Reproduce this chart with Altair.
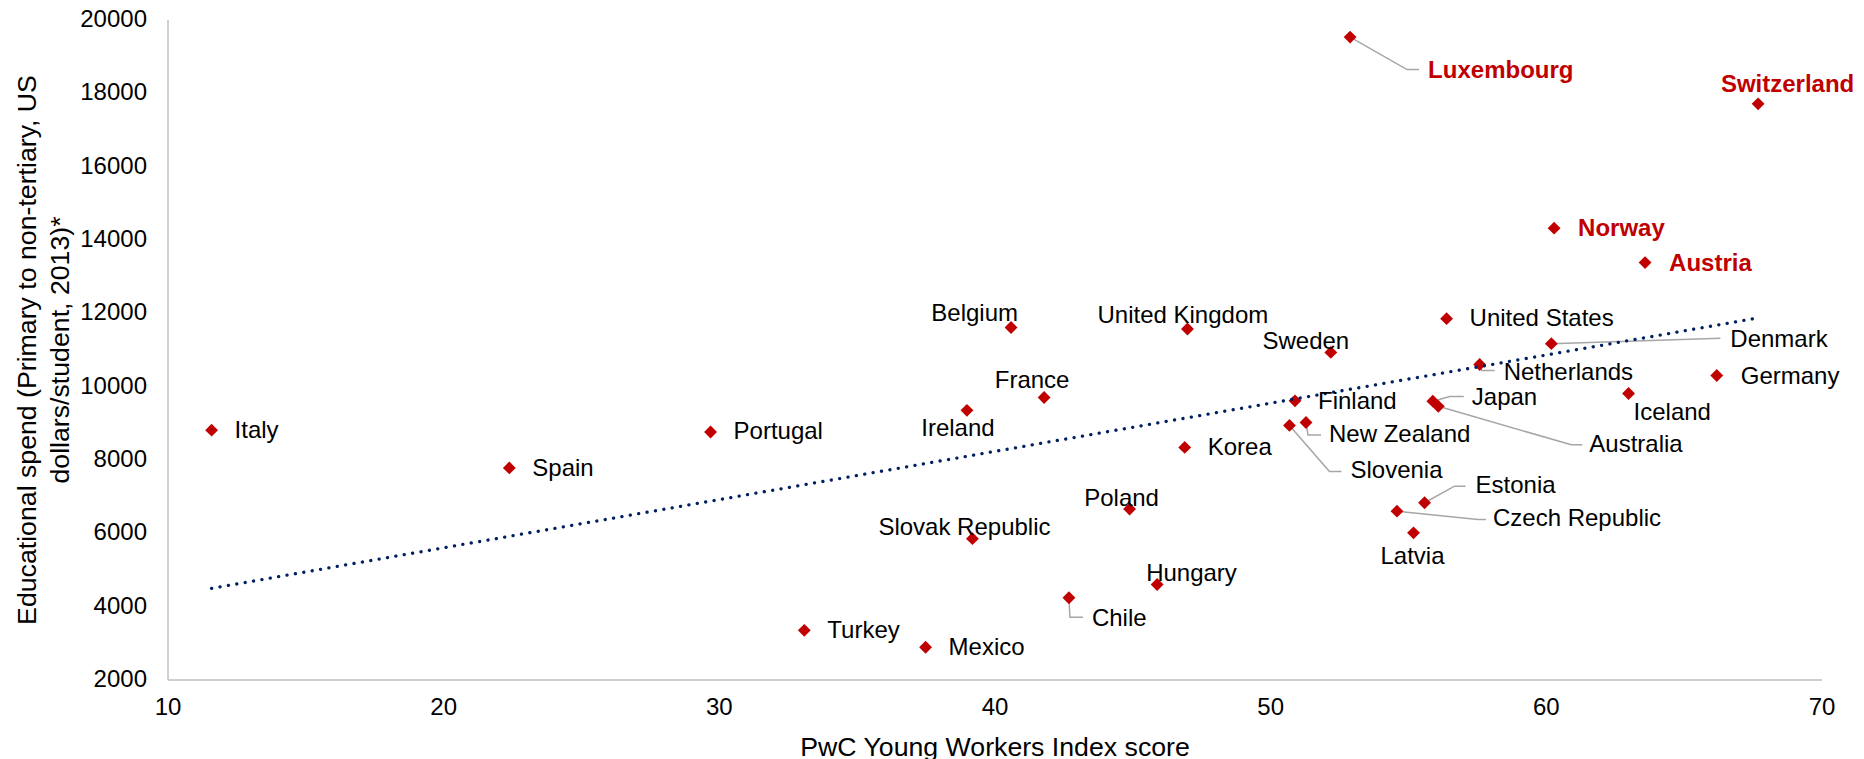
import altair as alt
import pandas as pd

# ---- data ----
countries = ["Italy", "Spain", "Portugal", "Turkey", "Mexico", "Ireland", "Slovak Republic",
             "Belgium", "France", "Chile", "Poland", "Hungary", "Korea", "United Kingdom",
             "Slovenia", "Finland", "New Zealand", "Sweden", "Luxembourg", "Czech Republic",
             "Latvia", "Estonia", "Japan", "Australia", "United States", "Netherlands",
             "Denmark", "Norway", "Iceland", "Austria", "Germany", "Switzerland"]
young_workers_score = [11.6, 22.4, 29.7, 33.1, 37.5, 39.0, 39.2,
                       40.6, 41.8, 42.7, 44.9, 45.9, 46.9, 47.0,
                       50.7, 50.9, 51.3, 52.2, 52.9, 54.6,
                       55.2, 55.6, 55.9, 56.1, 56.4, 57.6,
                       60.2, 60.3, 63.0, 63.6, 66.2, 67.7]
edu_spend = [8800, 7770, 8750, 3340, 2880, 9340, 5840,
             11600, 9690, 4230, 6650, 4590, 8330, 11560,
             8930, 9600, 9010, 10920, 19520, 6590,
             6000, 6820, 9590, 9450, 11840, 10590,
             11160, 14310, 9800, 13370, 10290, 17700]
highlighted = ["Luxembourg", "Switzerland", "Norway", "Austria"]

x_ticks = [10, 20, 30, 40, 50, 60, 70]
y_ticks = [2000, 4000, 6000, 8000, 10000, 12000, 14000, 16000, 18000, 20000]

# ---- label layout (pixel offsets from the marker) ----
label_layout = {
    "Italy": ("left", 23, 1, None),
    "Spain": ("left", 23, 1, None),
    "Portugal": ("left", 23, 0, None),
    "Turkey": ("left", 23, 1, None),
    "Mexico": ("left", 23, 1, None),
    "Ireland": ("center", -9, 19, None),
    "Slovak Republic": ("center", -8, -11, None),
    "Belgium": ("right", 7, -14, None),
    "France": ("center", -12, -17, None),
    "Chile": ("left", 23, 21, [(0, 0), (1, 19.5), (14, 19.5)]),
    "Poland": ("center", -8, -10, None),
    "Hungary": ("left", -11, -11, None),
    "Korea": ("left", 23, 1, None),
    "United Kingdom": ("left", -90, -13, None),
    "Slovenia": ("left", 61, 46, [(0, 0), (40, 46), (52, 46)]),
    "Finland": ("left", 23, 1, None),
    "New Zealand": ("left", 23, 13, [(0, 0), (2, 12.5), (15, 12.5)]),
    "Sweden": ("center", -25, -10, None),
    "Luxembourg": ("left", 78, 34, [(0, 0), (57, 32.5), (69, 32.5)]),
    "Czech Republic": ("left", 96, 8, [(0, 0), (81, 8.3), (89, 8.3)]),
    "Latvia": ("center", -1, 24, None),
    "Estonia": ("left", 51, -17, [(0, 0), (30, -16.6), (41, -16.6)]),
    "Japan": ("left", 39, -3, [(0, 0), (17, -4.7), (31, -4.7)]),
    "Australia": ("left", 151, 39, [(0, 0), (133, 38.5), (144, 38.5)]),
    "United States": ("left", 23, 0, None),
    "Netherlands": ("left", 24, 8, [(0, 0), (2, 6), (15, 6)]),
    "Denmark": ("left", 179, -4, [(0, 0), (169, -5.5)]),
    "Norway": ("left", 24, 1, None),
    "Iceland": ("left", 5, 19, None),
    "Austria": ("left", 24, 1, None),
    "Germany": ("left", 24, 1, None),
    "Switzerland": ("center", 29.5, -19, None),
}

W, H = 1654, 660
X_DOM, Y_DOM = [10, 70], [2000, 20000]
PX_X = W / (X_DOM[1] - X_DOM[0])
PX_Y = H / (Y_DOM[1] - Y_DOM[0])

FONT = "Liberation Sans, Arial, sans-serif"
RED = "#C00000"

df = pd.DataFrame({"country": countries, "score": young_workers_score, "spend": edu_spend})

lab_rows, lead_rows = [], []
for c, sx, sy in zip(countries, young_workers_score, edu_spend):
    align, dx, dy, leader = label_layout[c]
    lab_rows.append({"country": c, "lx": sx + dx / PX_X, "ly": sy - dy / PX_Y,
                     "align": align, "bold": c in highlighted})
    if leader:
        for i, (ox, oy) in enumerate(leader):
            lead_rows.append({"country": c, "i": i, "lx": sx + ox / PX_X, "ly": sy - oy / PX_Y})
labels = pd.DataFrame(lab_rows)
leaders = pd.DataFrame(lead_rows)

xscale = alt.Scale(domain=X_DOM, nice=False, zero=False)
yscale = alt.Scale(domain=Y_DOM, nice=False, zero=False)

xaxis = alt.Axis(values=x_ticks, title="PwC Young Workers Index score", grid=False,
                 ticks=False, tickSize=0, labelPadding=16, titlePadding=15,
                 domainColor="#BFBFBF", domainWidth=1.5, labelFontSize=24, titleFontSize=26.7,
                 labelColor="#000000", titleColor="#000000", labelFont=FONT, titleFont=FONT,
                 titleFontWeight="normal", labelFlush=False, labelOverlap=False, format="d")
yaxis = alt.Axis(values=y_ticks, title=["Educational spend (Primary to non-tertiary, US",
                                        "dollars/student, 2013)*"],
                 grid=False, ticks=False, tickSize=0, labelPadding=21, titlePadding=5,
                 titleLineHeight=33,
                 domainColor="#BFBFBF", domainWidth=1.5, labelFontSize=24, titleFontSize=26.7,
                 labelColor="#000000", titleColor="#000000", labelFont=FONT, titleFont=FONT,
                 titleFontWeight="normal", labelFlush=False, labelOverlap=False, format="d")

lead = alt.Chart(leaders).mark_line(color="#A6A6A6", strokeWidth=1.5).encode(
    x=alt.X("lx:Q", scale=xscale, axis=xaxis),
    y=alt.Y("ly:Q", scale=yscale, axis=yaxis),
    detail="country:N",
    order="i:Q",
)

points = alt.Chart(df).mark_point(shape="diamond", filled=True, size=165, color=RED, opacity=1).encode(
    x=alt.X("score:Q", scale=xscale, axis=xaxis),
    y=alt.Y("spend:Q", scale=yscale, axis=yaxis),
)

trend = alt.Chart(df).transform_regression("score", "spend").mark_line(
    color="#002060", strokeWidth=3.3, strokeDash=[0.1, 8.4], strokeCap="round"
).encode(
    x=alt.X("score:Q", scale=xscale, axis=xaxis),
    y=alt.Y("spend:Q", scale=yscale, axis=yaxis),
)

text_layers = []
for align in ["left", "center", "right"]:
    for bold in [False, True]:
        sub = labels[(labels["align"] == align) & (labels["bold"] == bold)]
        if len(sub) == 0:
            continue
        text_layers.append(
            alt.Chart(sub).mark_text(
                align=align, baseline="middle", fontSize=24, font=FONT,
                fontWeight="bold" if bold else "normal",
                color=RED if bold else "#000000",
            ).encode(
                x=alt.X("lx:Q", scale=xscale, axis=xaxis),
                y=alt.Y("ly:Q", scale=yscale, axis=yaxis),
                text="country:N",
            )
        )

chart = alt.layer(lead, points, trend, *text_layers).properties(
    width=W, height=H,
    padding={"left": 159.5, "top": 11.5, "right": 34.5, "bottom": 79.5},
    autosize=alt.AutoSizeParams(type="none"),
    background="white",
).configure_view(stroke=None, strokeWidth=0)

chart.save("out.html", embed_options={"renderer": "svg", "actions": False})
